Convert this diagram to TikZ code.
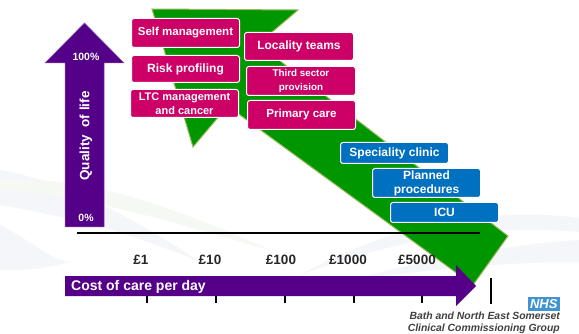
\documentclass[tikz,border=0pt]{standalone}
\usepackage{fontspec}
\setmainfont{Liberation Sans}
\definecolor{gfill}{RGB}{0,150,0}
\definecolor{gedge}{RGB}{150,185,90}
\definecolor{pinkbox}{RGB}{204,0,102}
\definecolor{bluebox}{RGB}{0,112,192}
\definecolor{purp}{RGB}{84,0,136}
\definecolor{swoosh}{RGB}{245,246,250}
\definecolor{swooshg}{RGB}{246,248,243}
\tikzset{
  x=1pt,y=-1pt,
  bx/.style={draw=white,line width=1pt,rounded corners=2.5pt,text=white,font=\bfseries\fontsize{11.8}{13}\selectfont,align=center,inner sep=0pt,anchor=north west},
  pinkb/.style={bx,fill=pinkbox},
  blueb/.style={bx,fill=bluebox},
  tick/.style={draw=black,line width=1.3pt},
  cost/.style={font=\bfseries\fontsize{13.5}{15}\selectfont,text=black!85},
  arrowlab/.style={text=white,font=\bfseries\fontsize{13.5}{15}\selectfont},
  pct/.style={text=white,font=\bfseries\fontsize{10.5}{12}\selectfont},
  lbl/.style={font=\bfseries\itshape\fontsize{10.4}{12}\selectfont,text=black!75,anchor=east,inner sep=0pt}
}
\begin{document}
\begin{tikzpicture}
\useasboundingbox (0,0) rectangle (579,334);
\fill[white] (0,0) rectangle (579,334);
% background swooshes
\fill[swoosh] (0,170) .. controls (60,180) and (130,215) .. (200,262) .. controls (130,232) and (60,215) .. (0,205) -- cycle;
\fill[swoosh] (0,225) .. controls (30,240) and (50,260) .. (70,262) .. controls (40,270) and (20,270) .. (0,270) -- cycle;
\fill[swooshg] (0,180) .. controls (90,175) and (180,210) .. (270,250) .. controls (180,225) and (90,195) .. (0,190) -- cycle;
\fill[swoosh] (579,218) .. controls (480,205) and (380,230) .. (300,275) .. controls (380,245) and (480,222) .. (579,232) -- cycle;
\fill[swoosh] (579,240) .. controls (500,245) and (420,262) .. (350,280) .. controls (430,270) and (500,262) .. (579,262) -- cycle;
% green shape
\draw[gedge,fill=gfill,line width=1pt,line join=miter] (152,9) -- (298,10) -- (258,44) -- (508,236) -- (473,285) -- (240,115) -- (227.7,106) -- (193,147) -- cycle;
% axis
\coordinate (axa) at (77,233);
\coordinate (axb) at (480,233);
\draw[black,line width=1.3pt] (axa) -- (axb);
% quality arrow
\path[fill=purp,draw=purp!70!white,line width=.5pt] (65,227) -- (65,63) -- (45,63) -- (84.5,23) -- (124,63) -- (104,63) -- (104,227) -- cycle;
\node[pct] (hundred) at (86,57) {100\%};
\node[pct] (zero) at (86,218) {0\%};
\node[arrowlab,rotate=90] (qol) at (86,136) {Quality\ \ of life};
% ticks
\foreach \n/\x in {a/147,b/216,c/285,d/354,e/422}{
  \coordinate (t\n1) at (\x,296);
  \coordinate (t\n2) at (\x,303);
  \draw[tick] (t\n1) -- (t\n2);
}
\coordinate (big1) at (491,278);
\coordinate (big2) at (491,304);
\draw[tick] (big1) -- (big2);
% cost arrow
\path[fill=purp] (65,276) -- (456,276) -- (456,265) -- (476,286) -- (456,306) -- (456,296) -- (65,296) -- cycle;
\node[arrowlab,anchor=west,inner sep=0pt,font=\bfseries\fontsize{14}{15}\selectfont] (cpd) at (71,287) {Cost of care per day};
% cost labels
\node[cost] (c1) at (141,260) {£1};
\node[cost] (c2) at (210,260) {£10};
\node[cost] (c3) at (281,260) {£100};
\node[cost] (c4) at (348,260) {£1000};
\node[cost] (c5) at (417,260) {£5000};
% boxes
\node[pinkb,minimum width=108pt,minimum height=29pt,font=\bfseries\fontsize{11.5}{13}\selectfont] (self) at (131,18) {Self management};
\node[pinkb,minimum width=108pt,minimum height=27pt,font=\bfseries\fontsize{12}{13}\selectfont] (risk) at (131,55) {Risk profiling};
\node[pinkb,minimum width=108pt,minimum height=28pt,font=\bfseries\fontsize{11}{14}\selectfont] (ltc) at (130,89) {LTC management\\[-0.5pt]and cancer};
\node[pinkb,minimum width=109pt,minimum height=28pt,font=\bfseries\fontsize{12}{14}\selectfont] (loc) at (244,32) {Locality teams};
\node[pinkb,minimum width=109pt,minimum height=29pt,font=\bfseries\fontsize{9.8}{13.5}\selectfont] (third) at (246,66) {Third sector\\provision};
\node[pinkb,minimum width=108pt,minimum height=29pt,font=\bfseries\fontsize{11.6}{13}\selectfont] (prim) at (247,100) {Primary care};
\node[blueb,minimum width=108pt,minimum height=21pt,font=\bfseries\fontsize{12}{13}\selectfont] (spec) at (340,142) {Speciality clinic};
\node[blueb,minimum width=108pt,minimum height=29pt,font=\bfseries\fontsize{12}{14}\selectfont] (plan) at (372,168) {Planned\\procedures};
\node[blueb,minimum width=108pt,minimum height=20pt,font=\bfseries\fontsize{12}{13}\selectfont] (icu) at (390,202) {ICU};
% logo
\node[fill=bluebox!75!white,text=white,inner sep=0pt,minimum width=32pt,minimum height=14pt,font=\bfseries\itshape\fontsize{13}{13}\selectfont,anchor=north east] (nhs) at (560,297) {NHS};
\node[lbl] (bath) at (560,316) {Bath and North East Somerset};
\node[lbl] (ccg) at (560,329) {Clinical Commissioning Group};
\end{tikzpicture}
\end{document}
